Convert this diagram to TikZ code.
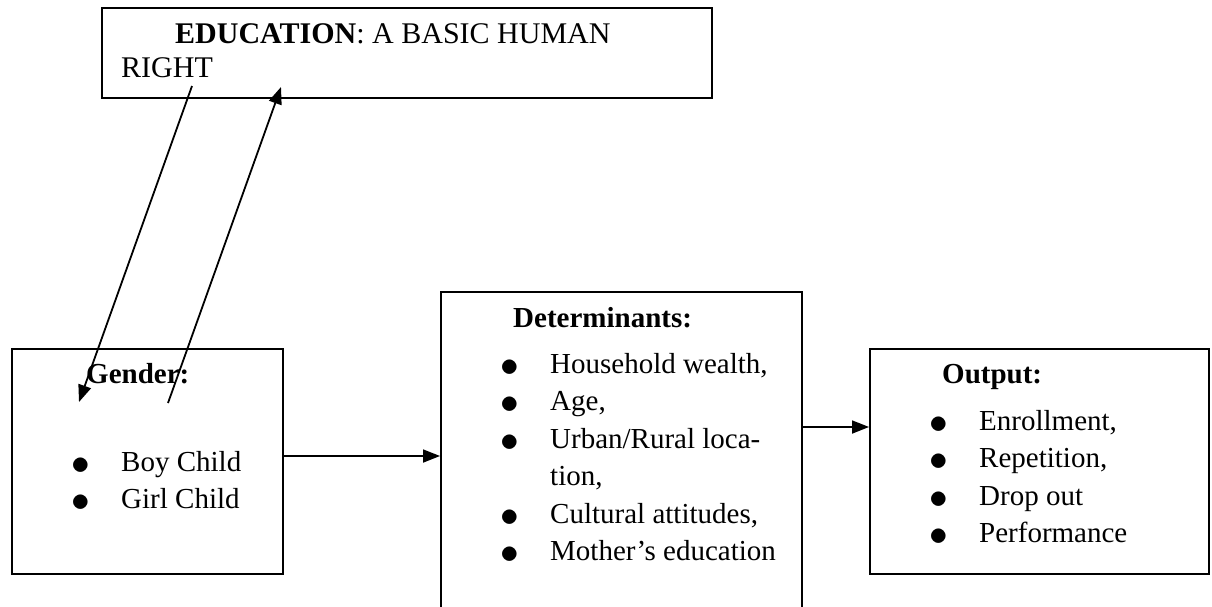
\documentclass[tikz,border=0pt]{standalone}
\usepackage{fontspec}
\setmainfont{Liberation Serif}
\usetikzlibrary{arrows.meta,positioning}
\newcommand{\itm}[1]{\makebox[50pt][l]{\raisebox{-3pt}{\scalebox{1.5}{$\bullet$}}}#1}

\begin{document}
\begin{tikzpicture}[
  x=1pt, y=-1pt,
  font=\fontsize{29}{37.5}\selectfont,
  boxbase/.style={draw, line width=2pt, anchor=north west, inner sep=0pt},
  txt/.style={anchor=base west, inner sep=0pt},
  toptxt/.style={txt, font=\fontsize{30}{37.5}\selectfont},
  arr/.style={-{Triangle[length=17pt,width=13pt]}, line width=1.8pt},
]
\useasboundingbox (0,0) rectangle (1212,606);

% boxes
\node[boxbase, minimum width=610pt, minimum height=90pt]  (edu)    at (101,7)   {};
\node[boxbase, minimum width=271pt, minimum height=225pt] (gender) at (11,348)  {};
\node[boxbase, minimum width=361pt, minimum height=322pt] (det)    at (440,291) {};
\node[boxbase, minimum width=339pt, minimum height=225pt] (out)    at (869,348) {};

% texts
\node[toptxt] (eduTitle) at (175,43) {\textbf{EDUCATION}: A BASIC HUMAN};
\node[toptxt] (eduRight) at (121,77) {RIGHT};

\node[txt] (genderHead) at (86,383) {\textbf{Gender:}};
\node[txt] (genderList) at (71,471) {\begin{tabular}[t]{@{}l@{}}
  \itm{Boy Child}\\ \itm{Girl Child}\end{tabular}};

\node[txt] (detHead) at (513,327) {\textbf{Determinants:}};
\node[txt] (detList) at (500,373) {\begin{tabular}[t]{@{}l@{}}
  \itm{Household wealth,}\\ \itm{Age,}\\ \itm{Urban/Rural loca-}\\
  \hspace*{50pt}tion,\\ \itm{Cultural attitudes,}\\ \itm{Mother’s education}\end{tabular}};

\node[txt] (outHead) at (942,383) {\textbf{Output:}};
\node[txt] (outList) at (929,430) {\begin{tabular}[t]{@{}l@{}}
  \itm{Enrollment,}\\ \itm{Repetition,}\\ \itm{Drop out}\\ \itm{Performance}\end{tabular}};

% arrows
\coordinate (rightFoot) at (192,86);
\coordinate (genderIn)  at (79,402);
\coordinate (genderOut) at (168,403);
\coordinate (eduIn)     at (281,87);
\draw[arr] (rightFoot) -- (genderIn);
\draw[arr] (genderOut) -- (eduIn);

\draw[arr] (gender.east |- 0,456) -- (det.west |- 0,456);
\draw[arr] (det.east |- 0,427) -- (out.west |- 0,427);
\end{tikzpicture}
\end{document}
